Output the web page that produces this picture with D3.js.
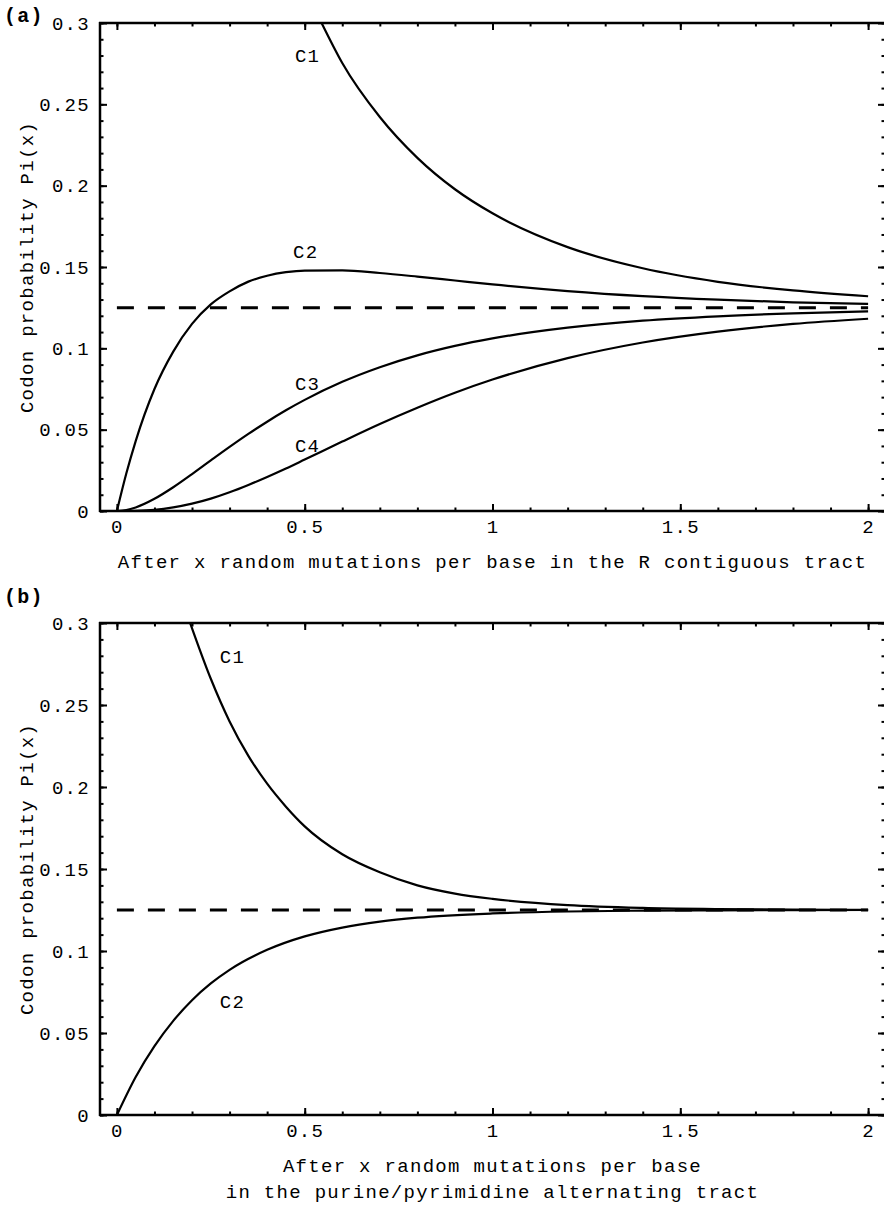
<!DOCTYPE html>
<html>
<head>
<meta charset="utf-8">
<script src="https://cdn.jsdelivr.net/npm/d3@7"></script>
<style>
	body { margin: 0; background: #fff; }
	text { font-family: "Liberation Mono", "Courier New", monospace; font-size: 19px; letter-spacing: 1.3px; fill: #000; }
	.tick line { stroke: #000; stroke-width: 2; }
	.frame { stroke: #000; stroke-width: 2.5; }
	.curve { fill: none; stroke: #000; stroke-width: 2.2; }
	.equil { fill: none; stroke: #000; stroke-width: 3; stroke-dasharray: 17, 14; }
</style>
</head>
<body>
<svg id="chart" width="884" height="1206"></svg>
<script>
// tick labels
var xTicks = [0, 0.5, 1, 1.5, 2];
var yTicks = [0, 0.05, 0.1, 0.15, 0.2, 0.25, 0.3];
var equilibrium = 0.125;

// (a) R contiguous tract
var xA = [0, 0.025, 0.05, 0.1, 0.15, 0.2, 0.25, 0.3, 0.35, 0.4, 0.45, 0.5, 0.6, 0.7, 0.8, 0.9, 1.0, 1.2, 1.4, 1.6, 1.8, 2.0];
var c2A = [0, 0.023, 0.043, 0.075, 0.098, 0.115, 0.127, 0.135, 0.141, 0.1446, 0.1468, 0.1478, 0.1479, 0.1463, 0.1441, 0.1417, 0.1393, 0.1352, 0.1321, 0.1299, 0.1283, 0.1273];
var c3A = [0, 0.0006, 0.0022, 0.0075, 0.0146, 0.0227, 0.0311, 0.0394, 0.0474, 0.0549, 0.0619, 0.0683, 0.0794, 0.0884, 0.0957, 0.1015, 0.1061, 0.1127, 0.1170, 0.1197, 0.1215, 0.1227];
var c4A = [0, 0, 0.0001, 0.0007, 0.0022, 0.0045, 0.0076, 0.0115, 0.0160, 0.0209, 0.0261, 0.0316, 0.0427, 0.0535, 0.0635, 0.0727, 0.0808, 0.0940, 0.1036, 0.1103, 0.1150, 0.1182];
var xC1A = [0.545, 0.6, 0.7, 0.8, 0.9, 1.0, 1.2, 1.4, 1.6, 1.8, 2.0];
var c1A = [0.300, 0.2754, 0.2422, 0.2171, 0.1978, 0.1830, 0.1622, 0.1492, 0.1409, 0.1356, 0.1320];

// (b) purine/pyrimidine alternating tract
var xB = [0, 0.05, 0.1, 0.15, 0.2, 0.25, 0.3, 0.4, 0.5, 0.6, 0.7, 0.8, 1.0, 1.2, 1.4, 1.6, 1.8, 2.0];
var c2B = [0, 0.0232, 0.042, 0.0574, 0.070, 0.0802, 0.0885, 0.1007, 0.1089, 0.1143, 0.1179, 0.1203, 0.1229, 0.1241, 0.1246, 0.1248, 0.1249, 0.1250];
var xC1B = [0.195, 0.25, 0.3, 0.35, 0.4, 0.45, 0.5, 0.6, 0.7, 0.8, 0.9, 1.0, 1.2, 1.4, 1.6, 1.8, 2.0];
var c1B = [0.300, 0.266, 0.240, 0.219, 0.202, 0.188, 0.176, 0.159, 0.148, 0.140, 0.135, 0.1318, 0.128, 0.1263, 0.1256, 0.1252, 0.1251];

var svg = d3.select("#chart");
svg.append("rect").attr("width", 884).attr("height", 1206).attr("fill", "#fff");

var x = d3.scaleLinear().domain([-0.045, 2.045]).range([100, 885]);

function zip(xs, ys) {
	return xs.map(function(d, i) { return [d, ys[i]]; });
}

function drawPanel(p) {
	var y = d3.scaleLinear().domain([0, 0.3]).range([p.bottom, p.top]);
	var g = svg.append("g");
	var minorX = d3.range(0, 21).map(function(i) { return i / 10; });
	var minorY = d3.range(0, 31).map(function(i) { return i / 100; });

	// minor ticks, all four sides, pointing inward
	g.append("g").attr("transform", "translate(0," + p.bottom + ")")
		.call(d3.axisBottom(x).tickValues(minorX).tickSize(-3.5).tickFormat(""));
	g.append("g").attr("transform", "translate(0," + p.top + ")")
		.call(d3.axisTop(x).tickValues(minorX).tickSize(-3.5).tickFormat(""));
	g.append("g").attr("transform", "translate(100,0)")
		.call(d3.axisLeft(y).tickValues(minorY).tickSize(-3.5).tickFormat(""));
	g.append("g").attr("transform", "translate(885,0)")
		.call(d3.axisRight(y).tickValues(minorY).tickSize(-3.5).tickFormat(""));

	// major ticks
	g.append("g").attr("transform", "translate(0," + p.bottom + ")")
		.call(d3.axisBottom(x).tickValues(xTicks).tickSize(-7).tickPadding(8.5).tickFormat(function(d) { return d; }));
	g.append("g").attr("transform", "translate(0," + p.top + ")")
		.call(d3.axisTop(x).tickValues(xTicks).tickSize(-7).tickFormat(""));
	g.append("g").attr("transform", "translate(100,0)")
		.call(d3.axisLeft(y).tickValues(yTicks).tickSize(-7).tickPadding(10).tickFormat(function(d) { return d; }));
	g.append("g").attr("transform", "translate(885,0)")
		.call(d3.axisRight(y).tickValues(yTicks).tickSize(-7).tickFormat(""));

	g.selectAll(".domain").remove();
	g.selectAll(".tick text").attr("font-family", null).attr("font-size", null);

	// frame
	g.append("line").classed("frame", true).attr("x1", 100).attr("x2", 100).attr("y1", p.top - 1).attr("y2", p.bottom + 1);
	g.append("line").classed("frame", true).attr("x1", 99).attr("x2", 884).attr("y1", p.top).attr("y2", p.top);
	g.append("line").classed("frame", true).attr("x1", 99).attr("x2", 884).attr("y1", p.bottom).attr("y2", p.bottom);

	var line = d3.line()
		.x(function(d) { return x(d[0]); })
		.y(function(d) { return y(d[1]); })
		.curve(d3.curveMonotoneX);

	g.append("path").classed("equil", true)
		.attr("d", line([[0, equilibrium], [2, equilibrium]]));

	g.selectAll(".curve")
		.data(p.series)
		.enter()
		.append("path")
		.classed("curve", true)
		.attr("d", function(s) { return line(zip(s.x, s.y)); });

	g.selectAll(".clabel")
		.data(p.series)
		.enter()
		.append("text")
		.classed("clabel", true)
		.attr("x", function(s) { return x(s.lx); })
		.attr("y", function(s) { return y(s.ly); })
		.text(function(s) { return s.name; });

	// panel tag
	g.append("text")
		.attr("x", 4)
		.attr("y", p.tagY)
		.style("font-size", "20px")
		.style("font-weight", "bold")
		.text(p.tag);

	// axis titles
	g.append("text")
		.attr("transform", "translate(33," + ((p.top + p.bottom) / 2) + ") rotate(-90)")
		.attr("text-anchor", "middle")
		.text("Codon probability Pi(x)");

	p.xlabel.forEach(function(t, i) {
		g.append("text")
			.attr("x", x(1))
			.attr("y", p.bottom + 57 + i * 26)
			.attr("text-anchor", "middle")
			.text(t);
	});
}

drawPanel({
	tag: "(a)", tagY: 22, top: 23, bottom: 511,
	xlabel: ["After x random mutations per base in the R contiguous tract"],
	series: [
		{name: "C1", x: xC1A, y: c1A, lx: 0.474, ly: 0.276},
		{name: "C2", x: xA, y: c2A, lx: 0.469, ly: 0.1555},
		{name: "C3", x: xA, y: c3A, lx: 0.474, ly: 0.0744},
		{name: "C4", x: xA, y: c4A, lx: 0.474, ly: 0.0363}
	]
});

drawPanel({
	tag: "(b)", tagY: 603, top: 623, bottom: 1115,
	xlabel: ["After x random mutations per base", "in the purine/pyrimidine alternating tract"],
	series: [
		{name: "C1", x: xC1B, y: c1B, lx: 0.274, ly: 0.2756},
		{name: "C2", x: xB, y: c2B, lx: 0.274, ly: 0.0652}
	]
});
</script>
</body>
</html>
